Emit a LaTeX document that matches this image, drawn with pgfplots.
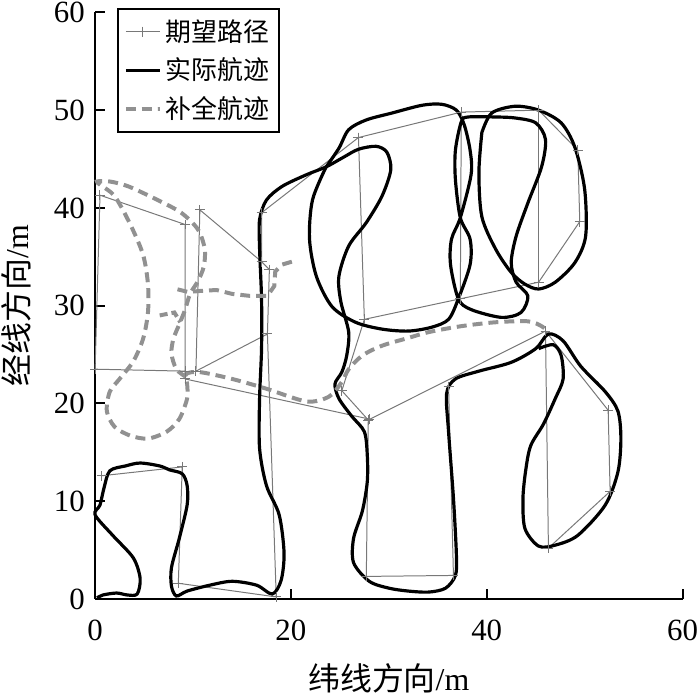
\documentclass[border=0pt]{standalone}
\usepackage{fontspec}
\setmainfont{Liberation Serif}
\newfontfamily\cjk{Noto Sans CJK SC}
\usepackage{pgfplots}
\pgfplotsset{compat=1.18}
\definecolor{desgray}{RGB}{120,120,120}
\definecolor{dashgray}{RGB}{145,145,145}
\begin{document}
\begin{tikzpicture}
\begin{axis}[
  width=295pt, height=294.5pt, scale only axis,
  xmin=0, xmax=60, ymin=0, ymax=60,
  axis lines=left, axis line style={line width=1.3pt, -},
  xtick={0,20,40,60}, ytick={0,10,...,60},
  tick align=inside, major tick length=5pt,
  tick style={line width=1pt, black},
  /pgf/number format/assume math mode=true,
  ticklabel style={font=\fontsize{15.5}{18}\selectfont, inner sep=1pt},
  xticklabel style={yshift=-9.5pt},
  yticklabel style={xshift=-4pt},
  xlabel={{\cjk 纬线方向}/m}, ylabel={{\cjk 经线方向}/m},
  label style={font=\fontsize{16}{19}\selectfont, inner sep=1pt},
  xlabel style={yshift=-9pt},
  ylabel style={yshift=9pt},
  legend cell align=left,
  legend style={at={(rel axis cs:0.037,1.007)}, anchor=north west,
    draw=black, line width=1pt, font=\cjk\fontsize{13}{15}\selectfont,
    row sep=3pt, inner sep=3pt},
  clip=false
]
% ---- desired path (thin, + marks)
\addplot[desgray, line width=0.5pt, mark=+, mark size=2.5pt, mark options={line width=0.5pt}]
 coordinates {(0.7,12.6) (8.9,13.5) (8.5,1.6) (18.5,0.2) (17.6,27.1) (17.8,33.7) (17.0,34.5) (10.7,39.8) (10.3,23.3) (17.6,27.1)};
\addlegendentry{期望路径}
\addplot[desgray, line width=0.5pt, mark=+, mark size=2.5pt, mark options={line width=0.5pt}, forget plot]
 coordinates {(9.2,23.3) (0,23.5) (0.5,41.3) (9.2,38.3) (9.2,22.5) (28.0,18.4)};
\addplot[desgray, line width=0.5pt, mark=+, mark size=2.5pt, mark options={line width=0.5pt}, forget plot]
 coordinates {(17.0,34.5) (17.0,39.5) (26.9,47.2) (27.5,28.6) (37.3,30.7) (45.3,32.4) (49.5,38.6) (49.3,45.9) (45.3,50.0) (37.4,49.8) (26.9,47.2)};
\addplot[desgray, line width=0.5pt, forget plot] coordinates {(37.4,49.8) (37.3,30.7)};
\addplot[desgray, line width=0.5pt, forget plot] coordinates {(45.3,50.0) (45.3,32.4)};
\addplot[desgray, line width=0.5pt, mark=+, mark size=2.5pt, mark options={line width=0.5pt}, forget plot]
 coordinates {(27.5,28.6) (25.2,21.3) (27.9,18.3) (46.0,27.4) (52.4,19.3) (52.6,11.0) (46.3,5.2) (46.0,27.4)};
\addplot[desgray, line width=0.5pt, mark=+, mark size=2.5pt, mark options={line width=0.5pt}, forget plot]
 coordinates {(27.9,18.3) (27.7,2.3) (36.6,2.4) (36.1,21.7)};
% ---- actual track (thick black)
\addplot[black, line width=1.6pt, smooth, tension=0.5]
 coordinates {(0.2,0.1) (0.8,0.4) (2.2,0.6) (3.3,0.4) (4.3,0.5) (4.6,2.1) (3.9,4.2) (1.8,6.5) (0,8.6) (0.5,9.6) (0.9,11.3) (1.5,13.1) (3.1,13.6) (4.6,13.9) (6.6,13.6) (7.6,13.2) (8.9,12.8) (9.4,11.6) (9.4,9.6) (8.6,6.2) (7.8,3.2) (7.8,1.3) (8.3,0.3) (9.4,0.8) (11.7,1.4) (14.0,1.8) (16.5,1.4) (18.1,0.5) (19.0,1.9) (19.3,4.7) (18.8,8.6) (17.5,11.6) (16.8,15.4) (16.8,20.5) (17.0,25.6) (17.0,30.7) (16.8,35.8) (16.8,38.8) (17.5,40.8) (19.1,42.2) (21.6,43.4) (23.6,44.2) (25.4,45.2) (26.9,46.0) (28.7,46.3) (29.8,45.7) (30.2,43.9) (29.3,41.2) (27.7,38.5) (25.9,36.1) (24.9,33.0) (25.1,30.4) (25.9,27.3) (25.7,24.9) (25.2,23.2) (24.5,22.0) (24.9,20.5) (26.2,18.7) (27.5,17.1) (27.8,14.7) (27.8,12.0) (27.3,9.0) (26.4,6.2) (26.4,3.7) (28.0,1.8) (30.0,1.1) (32.0,0.8) (34.1,0.7) (35.8,1.1) (36.8,2.4) (36.9,4.5) (36.6,10.3) (36.1,17.1) (35.9,21.0) (36.8,22.5) (39.2,23.3) (42.5,24.2) (45.0,25.6) (46.3,27.1) (47.8,26.4) (49.6,23.8) (52.1,21.2) (53.4,19.2) (53.7,16.4) (53.4,13.0) (52.1,9.6) (49.3,6.5) (47.0,5.5) (45.3,5.4) (43.9,7.2) (43.7,10.3) (44.0,13.3) (44.5,15.7) (45.8,17.9) (47.0,20.5) (47.8,22.5) (47.6,24.9) (46.8,26.0) (45.3,25.6)};
\addlegendentry{实际航迹}
\addplot[black, line width=1.6pt, smooth, tension=0.5, forget plot]
 coordinates {(23.6,44.2) (24.9,46.1) (25.9,48.0) (27.7,49.0) (30.3,49.7) (33.4,50.5) (35.4,50.6) (36.9,50.0) (37.7,48.5) (38.3,45.9) (38.4,43.4) (37.3,39.0) (36.4,36.8) (36.3,34.2) (37.1,30.7) (38.4,29.6) (41.5,28.8) (43.5,29.3) (44.2,31.0) (43.0,32.4) (42.5,34.4) (43.0,37.1) (44.2,40.5) (45.6,44.2) (46.0,47.0) (45.0,48.7) (42.9,49.2) (40.9,49.3) (38.1,49.3) (37.4,48.8) (36.8,45.9) (36.8,42.9) (37.3,39.0) (38.3,36.8) (38.3,34.2) (37.1,30.7) (36.1,28.6) (34.4,27.8) (32.0,27.4) (29.3,27.6) (26.6,28.3) (24.2,29.9) (22.6,33.0) (21.9,36.8) (22.2,40.8) (23.6,44.2)};
\addplot[black, line width=1.6pt, smooth, tension=0.5, forget plot]
 coordinates {(39.5,47.7) (40.5,49.7) (42.9,50.4) (45.3,50.0) (47.6,48.7) (49.0,46.2) (50.0,41.9) (50.1,37.1) (49.0,34.4) (47.0,32.4) (45.3,31.7) (43.9,32.2) (42.5,33.4) (40.9,35.8) (39.5,39.1) (39.2,43.6) (39.5,47.7)};
% ---- completion track (gray dashed)
\addplot[dashgray, line width=2pt, dash pattern=on 5pt off 3pt, smooth, tension=0.5]
 coordinates {(9.3,22.7) (8.3,23.5) (7.8,25.1) (8.0,26.6) (8.6,28.1) (9.2,29.6) (9.7,31.2) (10.5,32.5) (11.1,34.0) (11.2,35.8) (10.5,37.8) (8.8,39.5) (6.4,40.8) (3.4,42.2) (1.5,42.7) (0.2,42.7) (0.6,42.3) (2.0,41.2) (3.6,38.3) (4.9,35.2) (5.4,32.2) (5.4,29.3) (4.9,26.6) (3.9,24.3) (2.5,22.5) (1.5,21.2) (1.2,19.2) (2.0,17.6) (3.6,16.7) (5.4,16.4) (7.3,17.1) (8.6,18.4) (9.4,20.5) (9.4,22.0) (9.3,23.0) (10.7,23.2) (14.0,22.5) (17.5,21.5) (21.6,20.2) (23.9,20.7) (25.2,22.2) (25.9,23.5) (27.3,24.9) (29.3,25.9) (32.0,26.7) (34.1,27.3) (37.4,27.9) (40.9,28.3) (44.2,28.4) (45.6,27.9) (46.3,27.3)};
\addlegendentry{补全航迹}
\addplot[dashgray, line width=2pt, dash pattern=on 5pt off 3pt, forget plot]
 coordinates {(20.1,34.5) (19.1,34.2) (18.4,33.5) (18.3,32.0) (17.6,31.0) (15.8,31.0) (14.0,31.2) (12.4,31.6) (10.7,31.5) (9.5,31.4) (8.3,31.7)};
\addplot[dashgray, line width=2pt, dash pattern=on 4pt off 2pt, forget plot]
 coordinates {(6.6,29.0) (8.1,29.3) (8.7,28.3)};
\end{axis}
\end{tikzpicture}
\end{document}
